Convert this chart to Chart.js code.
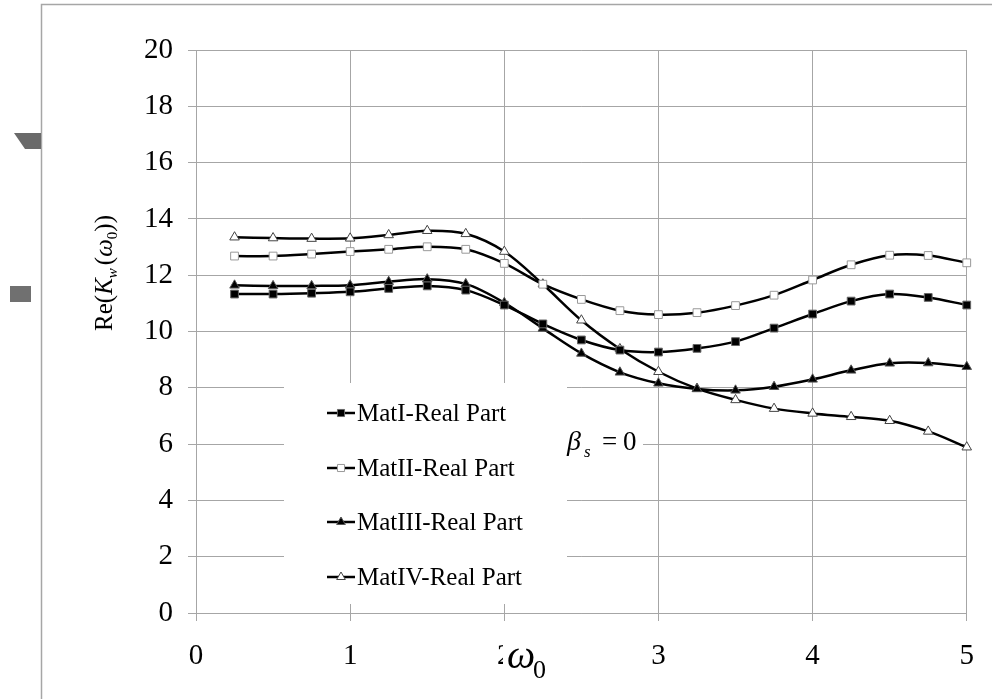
<!DOCTYPE html>
<html>
<head>
<meta charset="utf-8">
<script src="https://cdn.jsdelivr.net/npm/chart.js@4/dist/chart.umd.min.js"></script>
<style>
  html, body { margin: 0; padding: 0; background: #fff; }
  #wrap { width: 992px; height: 699px; }
</style>
</head>
<body>
<div id="wrap"><canvas id="chart-main" width="992" height="699"></canvas></div>
<script>
// omega_0 sample points
const xValues = [0.25, 0.5, 0.75, 1, 1.25, 1.5, 1.75, 2, 2.25, 2.5, 2.75, 3, 3.25, 3.5, 3.75, 4, 4.25, 4.5, 4.75, 5];

// Re(K_w(omega_0))
const matI   = [11.33, 11.33, 11.36, 11.41, 11.53, 11.62, 11.47, 10.94, 10.27, 9.70, 9.34, 9.27, 9.40, 9.64, 10.12, 10.62, 11.08, 11.33, 11.21, 10.94];
const matII  = [12.68, 12.68, 12.75, 12.84, 12.92, 13.01, 12.92, 12.42, 11.68, 11.14, 10.74, 10.60, 10.67, 10.92, 11.29, 11.83, 12.37, 12.71, 12.70, 12.44];
const matIII = [11.64, 11.62, 11.62, 11.64, 11.77, 11.86, 11.69, 11.02, 10.11, 9.22, 8.55, 8.16, 7.96, 7.91, 8.04, 8.30, 8.62, 8.87, 8.88, 8.75];
const matIV  = [13.35, 13.32, 13.30, 13.31, 13.43, 13.58, 13.47, 12.84, 11.68, 10.40, 9.38, 8.57, 7.97, 7.57, 7.26, 7.09, 6.97, 6.83, 6.45, 5.89];

const seriesLabels = ['MatI-Real Part', 'MatII-Real Part', 'MatIII-Real Part', 'MatIV-Real Part'];
const xTicks = [0, 1, 2, 3, 4, 5];
const yTicks = [0, 2, 4, 6, 8, 10, 12, 14, 16, 18, 20];

const SERIF = '"Liberation Serif", "Times New Roman", serif';
const GRID = '#a6a6a6';

function pts(ys) { return ys.map((y, i) => ({ x: xValues[i], y })); }

function series(label, ys, style, fill, edge) {
  return {
    label,
    data: pts(ys),
    borderColor: '#000',
    borderWidth: 2.5,
    tension: 0.33,
    clip: false,
    pointStyle: style,
    pointRadius: 5.5,
    pointHoverRadius: 5.5,
    pointBackgroundColor: fill,
    pointBorderColor: edge,
    pointBorderWidth: 1,
  };
}

// draw a run of text pieces (different fonts / offsets) centred on x
function drawRich(ctx, pieces, cx, baseY) {
  let total = 0;
  pieces.forEach(p => { ctx.font = p.font; p.w = ctx.measureText(p.t).width + (p.gap || 0); total += p.w; });
  let x = cx - total / 2;
  ctx.textBaseline = 'alphabetic';
  ctx.textAlign = 'left';
  pieces.forEach(p => { ctx.font = p.font; ctx.fillText(p.t, x, baseY + (p.dy || 0)); x += p.w; });
}

function marker(ctx, ds, x, y) {
  ctx.fillStyle = ds.pointBackgroundColor;
  ctx.strokeStyle = ds.pointBorderColor;
  ctx.lineWidth = ds.pointBorderWidth;
  if (Chart.helpers && Chart.helpers.drawPoint) {
    Chart.helpers.drawPoint(ctx, { pointStyle: ds.pointStyle, radius: 5, rotation: 0, borderWidth: ds.pointBorderWidth }, x, y);
  }
}

// page frame, grey decorations, legend box and the math labels
const decor = {
  id: 'decor',
  beforeDraw(chart) {
    const ctx = chart.ctx;
    ctx.save();
    ctx.fillStyle = '#fff';
    ctx.fillRect(0, 0, chart.width, chart.height);
    ctx.strokeStyle = GRID;
    ctx.lineWidth = 1.5;
    ctx.strokeRect(41.5, 4.5, 1100, 900);
    ctx.fillStyle = '#6a6a6a';
    ctx.beginPath();
    ctx.moveTo(14, 133); ctx.lineTo(41, 133); ctx.lineTo(41, 149); ctx.lineTo(25, 149);
    ctx.closePath(); ctx.fill();
    ctx.fillStyle = '#707070';
    ctx.fillRect(10, 286, 21, 16);
    ctx.restore();
  },
  beforeDatasetsDraw(chart) {
    const ctx = chart.ctx;
    ctx.save();
    ctx.fillStyle = '#fff';
    ctx.fillRect(284, 383, 283, 221);   // legend box
    ctx.fillRect(567, 420, 76, 50);     // beta label box
    ctx.restore();
  },
  afterDraw(chart) {
    const ctx = chart.ctx;
    ctx.save();
    ctx.fillStyle = '#000';

    // legend
    const rows = [413, 468, 522, 577];
    chart.data.datasets.forEach((ds, i) => {
      const y = rows[i];
      ctx.strokeStyle = '#000';
      ctx.lineWidth = 2.5;
      ctx.beginPath(); ctx.moveTo(327, y); ctx.lineTo(355, y); ctx.stroke();
      marker(ctx, ds, 341, y);
      ctx.fillStyle = '#000';
      ctx.font = '25px ' + SERIF;
      ctx.textAlign = 'left';
      ctx.textBaseline = 'middle';
      ctx.fillText(ds.label, 357, y + 1);
    });

    // beta_s = 0
    ctx.fillStyle = '#000';
    ctx.textBaseline = 'alphabetic';
    ctx.font = 'italic 28px ' + SERIF;
    ctx.fillText('β', 567, 450);
    ctx.font = 'italic 17px ' + SERIF;
    ctx.fillText('s', 584, 457);
    ctx.font = '27px ' + SERIF;
    ctx.fillText('=', 602, 450);
    ctx.fillText('0', 623, 450);

    // x-axis title, covers most of the "2" tick label
    ctx.fillStyle = '#fff';
    ctx.fillRect(503, 638, 48, 48);
    ctx.fillStyle = '#000';
    ctx.font = 'italic 40px ' + SERIF;
    ctx.fillText('ω', 507, 668);
    ctx.font = '26px ' + SERIF;
    ctx.fillText('0', 533, 678);

    // y-axis title
    ctx.translate(112, 273);
    ctx.rotate(-Math.PI / 2);
    drawRich(ctx, [
      { t: 'Re(', font: '25px ' + SERIF },
      { t: 'K', font: 'italic 25px ' + SERIF },
      { t: 'w', font: 'italic 15px ' + SERIF, dy: 5, gap: 3 },
      { t: '(', font: '25px ' + SERIF },
      { t: 'ω', font: 'italic 25px ' + SERIF },
      { t: '0', font: '15px ' + SERIF, dy: 5 },
      { t: '))', font: '25px ' + SERIF },
    ], 0, 0);
    ctx.restore();
  }
};

const chartMain = new Chart(document.getElementById('chart-main').getContext('2d'), {
  type: 'line',
  data: {
    datasets: [
      series(seriesLabels[0], matI,   'rect',     '#000', '#666'),
      series(seriesLabels[1], matII,  'rect',     '#fff', '#999'),
      series(seriesLabels[2], matIII, 'triangle', '#000', '#555'),
      series(seriesLabels[3], matIV,  'triangle', '#fff', '#444'),
    ]
  },
  options: {
    responsive: false,
    animation: false,
    devicePixelRatio: 1,
    layout: { padding: { top: 50, right: 22, left: 0, bottom: 0 } },
    plugins: { legend: { display: false }, tooltip: { enabled: false } },
    scales: {
      x: {
        type: 'linear',
        min: 0, max: 5,
        afterFit: s => { s.height = 86; },
        afterBuildTicks: s => { s.ticks = xTicks.map(v => ({ value: v })); },
        grid: { color: GRID, lineWidth: 1, tickLength: 8, drawTicks: true },
        border: { color: GRID, width: 1 },
        ticks: { color: '#000', font: { family: SERIF, size: 29 }, padding: 18, maxRotation: 0 }
      },
      y: {
        min: 0, max: 20,
        afterFit: s => { s.width = 196; },
        afterBuildTicks: s => { s.ticks = yTicks.map(v => ({ value: v })); },
        grid: { color: GRID, lineWidth: 1, tickLength: 8, drawTicks: true },
        border: { color: GRID, width: 1 },
        ticks: { color: '#000', font: { family: SERIF, size: 29 }, padding: 15 }
      }
    }
  },
  plugins: [decor]
});
</script>
</body>
</html>
